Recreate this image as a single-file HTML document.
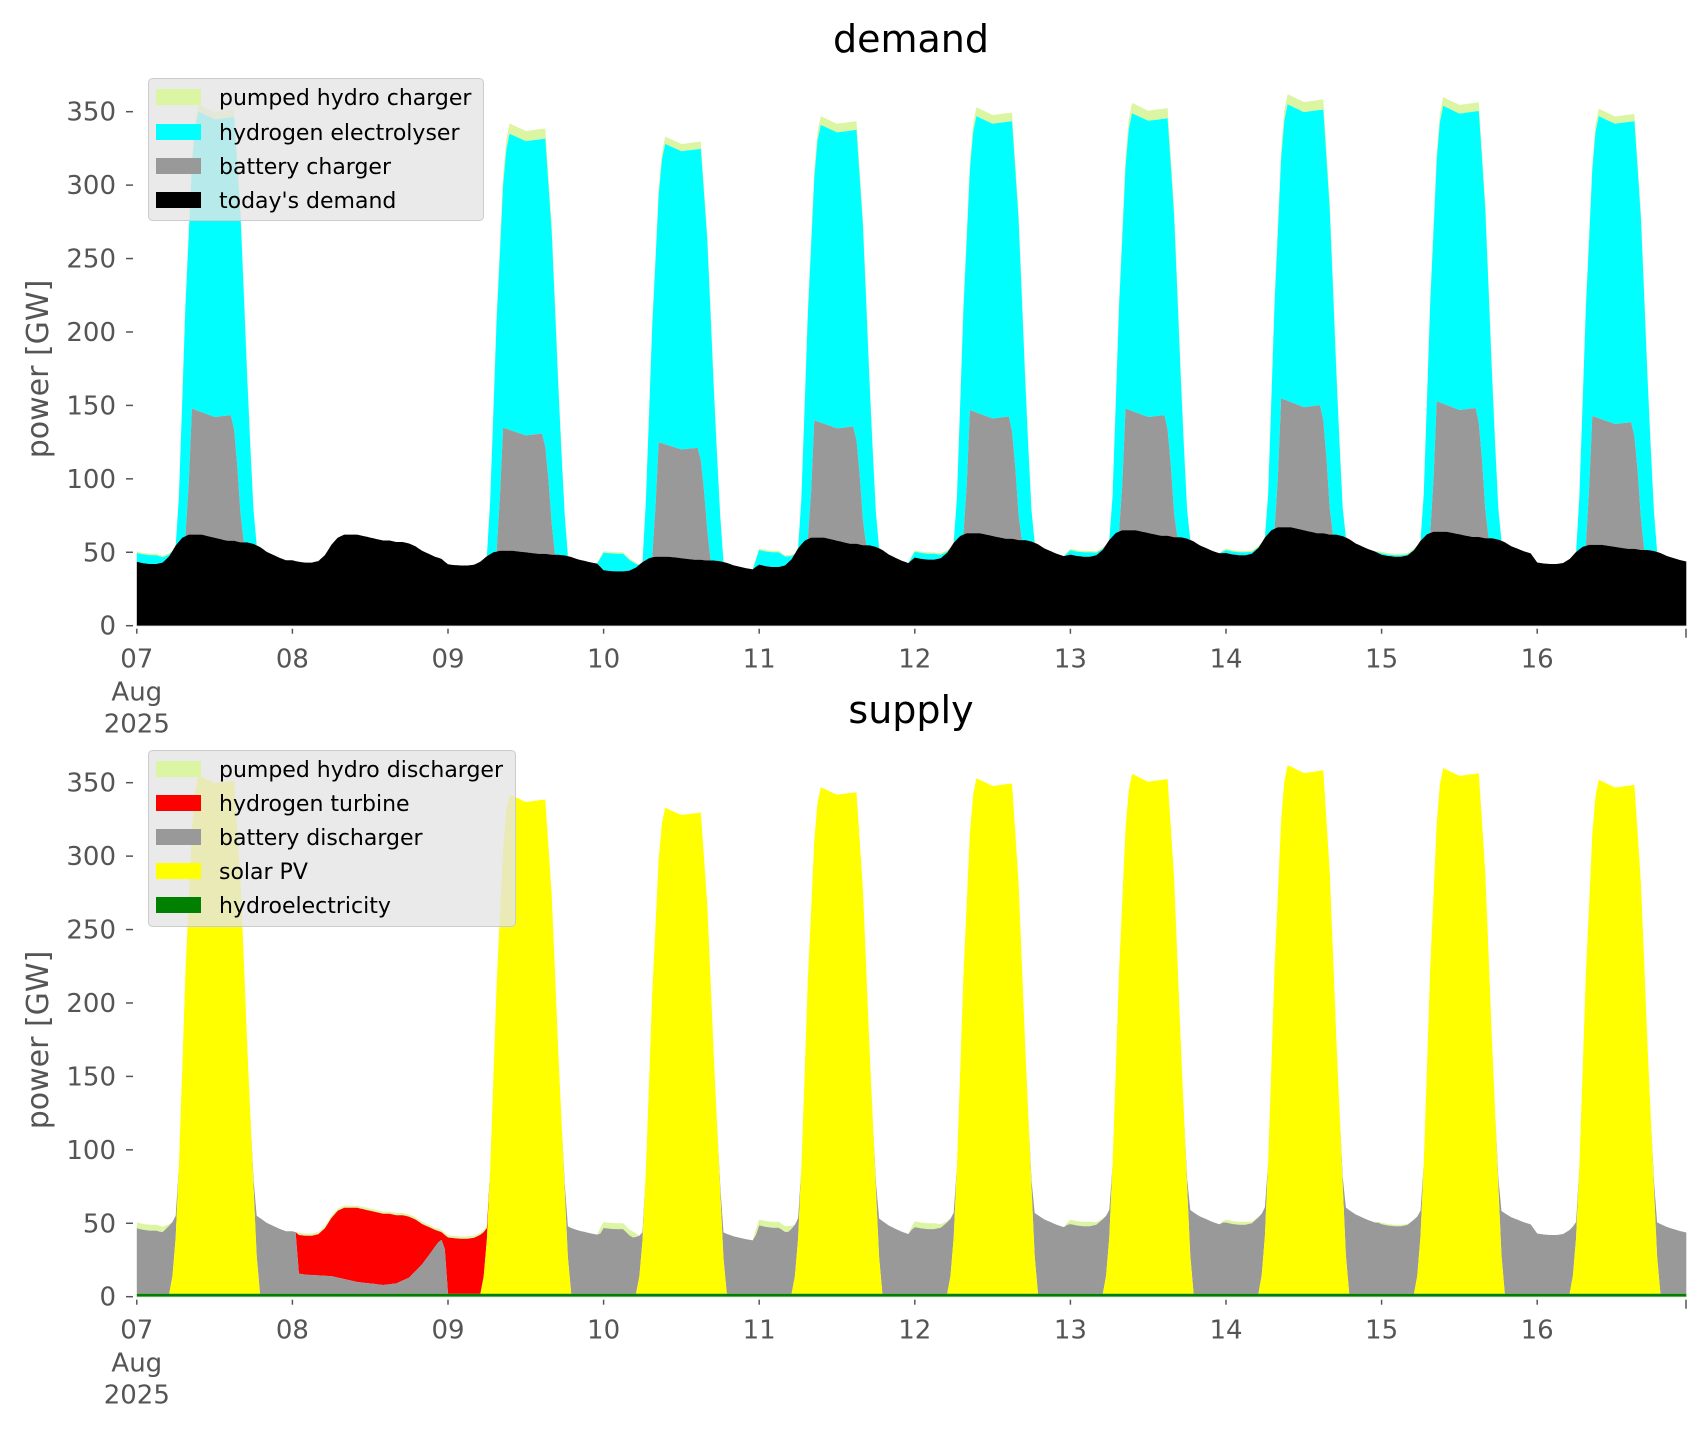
<!DOCTYPE html>
<html><head><meta charset="utf-8">
<style>
html,body{margin:0;padding:0;background:#fff;}
svg{display:block;font-family:"DejaVu Sans","Liberation Sans",sans-serif;}
.tk{fill:#555;font-size:26px;}
</style></head>
<body>
<svg id="s" width="1706" height="1431" viewBox="0 0 1706 1431" xmlns="http://www.w3.org/2000/svg">
<rect width="1706" height="1431" fill="#fff"/>
<g id="top"></g>
<g id="bot"></g>
<g id="axes"></g>
<text x="911" y="52" font-size="38" text-anchor="middle" fill="#000">demand</text>
<text x="911" y="723" font-size="38" text-anchor="middle" fill="#000">supply</text>
<text transform="translate(48,369) rotate(-90)" font-size="30" text-anchor="middle" fill="#555">power [GW]</text>
<text transform="translate(48,1040) rotate(-90)" font-size="30" text-anchor="middle" fill="#555">power [GW]</text>
<g>
<rect x="148.5" y="78.5" width="335" height="142" rx="4" fill="rgba(229,229,229,0.8)" stroke="#ccc"/>
<rect x="156" y="89" width="45" height="16" fill="#dbf5a3"/>
<rect x="156" y="124" width="45" height="16" fill="#00ffff"/>
<rect x="156" y="158" width="45" height="16" fill="#999"/>
<rect x="156" y="192" width="45" height="16" fill="#000"/>
<g font-size="22" fill="#000">
<text x="219" y="105">pumped hydro charger</text>
<text x="219" y="140">hydrogen electrolyser</text>
<text x="219" y="174">battery charger</text>
<text x="219" y="208">today's demand</text>
</g>
</g>
<g>
<rect x="148.5" y="750.5" width="367" height="176" rx="4" fill="rgba(229,229,229,0.8)" stroke="#ccc"/>
<rect x="156" y="761" width="45" height="16" fill="#dbf5a3"/>
<rect x="156" y="795" width="45" height="16" fill="#ff0000"/>
<rect x="156" y="829" width="45" height="16" fill="#999"/>
<rect x="156" y="863" width="45" height="16" fill="#ffff00"/>
<rect x="156" y="897" width="45" height="16" fill="#008000"/>
<g font-size="22" fill="#000">
<text x="219" y="777">pumped hydro discharger</text>
<text x="219" y="811">hydrogen turbine</text>
<text x="219" y="845">battery discharger</text>
<text x="219" y="879">solar PV</text>
<text x="219" y="913">hydroelectricity</text>
</g>
</g>
</svg>
<script>
(function(){
var NS="http://www.w3.org/2000/svg";
var X0=136.8,DW=155.6,K=1.4686,Y0t=625.7,Y0b=1296.7;
function interp(pts,x){if(x<=pts[0][0])return pts[0][1];for(var i=1;i<pts.length;i++){if(x<=pts[i][0]){var a=pts[i-1],b=pts[i];return a[1]+(b[1]-a[1])*(x-a[0])/(b[0]-a[0]);}}return pts[pts.length-1][1];}
var shape=[44.5,43.5,43,43,44,48,55,60,62,62,62,61,60,59,58,58,57,57,56,54,51,49,47,45.5];
var lo=[42,43,41,37,40,45,47,48,47,42],hi=[62,62,51,47,60,63,65,67,64,55];
var peak=[355,0,342,333,347,353,356,362,360,352];
var bat=[148,0,135,125,140,147,148,155,153,143];
var pump=[5,0,7,5,6,6,7,7,6,5];
var nightE=[6,0,0,12,10,4,3,2,1,0];
var totP=[[5.5,0],[6.5,0.25],[7.5,0.62],[8.7,0.95],[9.5,1],[12,0.985],[15,0.99],[16,0.8],[17.3,0.4],[18.5,0.1],[19,0]];
var batP=[[6.8,0],[7.6,0.3],[8.4,1],[12,0.96],[14.8,0.97],[15.6,0.7],[16.8,0.15],[17.5,0]];
var solP=[[5.2,0],[5.9,0.08],[6.5,0.25],[7.5,0.62],[8.7,0.95],[9.5,1],[12,0.985],[15,0.99],[16,0.8],[17.3,0.4],[18.3,0.12],[18.8,0]];
var T=[],L={};
['B','G','C','P','H','S','BD','R','PD'].forEach(function(k){L[k]=[];});
function blackAt(t){var d=Math.min(9,Math.floor(t/24)),h=t-d*24;var hi0=Math.floor(h),f=h-hi0;
 var s=shape[hi0%24]*(1-f)+shape[(hi0+1)%24]*f;
 var lo_=lo[d],hi_=hi[d];
 if(hi0==23&&d<9){lo_=lo[d]*(1-f)+lo[d+1]*f;hi_=hi[d]*(1-f)+hi[d+1]*f;}
 return lo_+(s-43)/19*(hi_-lo_);}
function gTurb(t){return interp([[23,1e9],[24.6,14],[26,13],[30,12],[34,8],[38,6],[40,7],[42,11],[44,20],[46.5,35],[47.4,38],[47.9,0],[55,0]],t);}
for(var i=0;i<=478;i++){
 var t=i*0.5;var d=Math.min(9,Math.floor(t/24)),h=t-d*24;
 var B=blackAt(t);
 var bt=bat[d]*interp(batP,h);
 var G=Math.max(B,bt);
 var ct=(peak[d]-pump[d])*interp(totP,h);
 var C=Math.max(G,ct);
 var ne=0;
 if(h<5.5)ne=nightE[d]*(1-Math.max(0,h-3)/2.5);
 if(h>23 && d<9) ne=nightE[d+1]*(h-23);
 C+=ne;
 var P=C+pump[d]*interp(totP,h)+(ne>0?1:0);
 L.B.push(B);L.G.push(G);L.C.push(C);L.P.push(P);
 var tot=P,H=2;
 var S=Math.min(tot-H,peak[d]*interp(solP,h));S=Math.max(0,S);
 var PD=ne>0?Math.min(4,ne):0;
 var R=0,BD;
 if(t>=24.5&&t<=55){var g=Math.min(gTurb(t),Math.max(0,tot-H-S));R=Math.max(0,tot-H-S-g-1.5);BD=g;PD=1.5;}
 else BD=Math.max(0,tot-H-S-PD);
 L.H.push(H);L.S.push(H+S);L.BD.push(H+S+BD);L.R.push(H+S+BD+R);L.PD.push(Math.max(H+S+BD+R,tot));
 T.push(t);
}
function poly(g,Y0,upper,lower,col){
 var s="";for(var i=0;i<T.length;i++){s+=(X0+T[i]/24*DW).toFixed(1)+","+(Y0-upper[i]*K).toFixed(1)+" ";}
 for(var i=T.length-1;i>=0;i--){s+=(X0+T[i]/24*DW).toFixed(1)+","+(Y0-(lower?lower[i]:0)*K).toFixed(1)+" ";}
 var p=document.createElementNS(NS,"polygon");p.setAttribute("points",s);p.setAttribute("fill",col);g.appendChild(p);}
var top=document.getElementById("top"),bot=document.getElementById("bot");
poly(top,Y0t,L.P,L.C,"#dbf5a3");poly(top,Y0t,L.C,L.G,"#00ffff");poly(top,Y0t,L.G,L.B,"#999");poly(top,Y0t,L.B,null,"#000");
poly(bot,Y0b,L.PD,L.R,"#dbf5a3");poly(bot,Y0b,L.R,L.BD,"#ff0000");poly(bot,Y0b,L.BD,L.S,"#999");poly(bot,Y0b,L.S,L.H,"#ffff00");poly(bot,Y0b,L.H,null,"#008000");
var ax=document.getElementById("axes");
function el(n,a,txt){var e=document.createElementNS(NS,n);for(var k in a)e.setAttribute(k,a[k]);if(txt!=null)e.textContent=txt;ax.appendChild(e);}
var days=["07","08","09","10","11","12","13","14","15","16"];
[[Y0t,0],[Y0b,1]].forEach(function(o){var Y0=o[0];
 el("line",{x1:X0,y1:Y0+0.5,x2:1686,y2:Y0+0.5,stroke:"#eee","stroke-width":1});
 for(var v=0;v<=350;v+=50){var y=Y0-v*K;
  el("line",{x1:126,y1:y,x2:133,y2:y,stroke:"#555","stroke-width":1.5});
  el("text",{x:116,y:y+9,"text-anchor":"end","class":"tk"},String(v));}
 for(var i=0;i<10;i++){var x=X0+i*DW;el("line",{x1:x,y1:Y0+3,x2:x,y2:Y0+8,stroke:"#555","stroke-width":1.5});
  el("text",{x:x,y:Y0+42,"text-anchor":"middle","class":"tk"},days[i]);}
 el("line",{x1:1686,y1:Y0+3,x2:1686,y2:Y0+12,stroke:"#555","stroke-width":1.5});
 el("text",{x:X0,y:Y0+75,"text-anchor":"middle","class":"tk"},"Aug");
 el("text",{x:X0,y:Y0+107,"text-anchor":"middle","class":"tk"},"2025");
});
})();
</script>
</body></html>
